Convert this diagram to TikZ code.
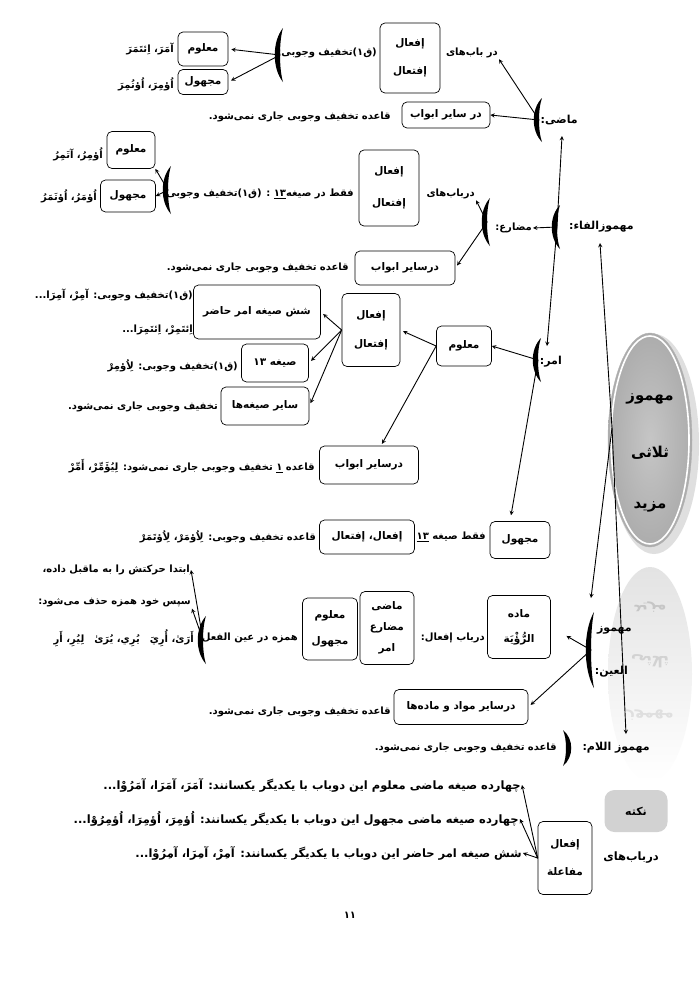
\documentclass[tikz,border=0pt]{standalone}
\usepackage{fontspec}
\newfontfamily\arabicfont[Script=Arabic]{DejaVu Sans}
\TeXXeTstate=1
\newcommand\ptxt[1]{\beginR#1\endR}
% crescent bracket: [direction] coordinate, half height
\newcommand\brak[3][1]{\fill[shift={(#2)}] ({3*(#1)},{-#3}) .. controls ({-8*(#1)},{-#3/2}) and ({-8*(#1)},{#3/2}) .. ({3*(#1)},{#3}) .. controls ({-1*(#1)},{#3/2}) and ({-1*(#1)},{-#3/2}) .. cycle;}
\tikzset{
  box/.style={draw, rounded corners=5pt, line width=0.7pt, inner sep=2pt, font=\arabicfont\bfseries\fontsize{10.5}{12}\selectfont},
  lbl/.style={inner sep=1pt, anchor=east},
  lblbig/.style={font=\arabicfont\bfseries\fontsize{11}{13}\selectfont},
  rowtxt/.style={font=\arabicfont\bfseries\fontsize{11.5}{13}\selectfont},
  ovaltxt/.style={font=\arabicfont\bfseries\fontsize{15}{18}\selectfont},
  arr/.style={->, line width=0.9pt},
}
\begin{document}
\begin{tikzpicture}[x=1pt, y=-1pt, >=stealth, line join=round, line cap=round,
  every node/.style={font=\arabicfont\bfseries\fontsize{10}{12}\selectfont}]
\fill[white] (0,0) rectangle (700,989);
\useasboundingbox (0,0) rectangle (700,989);

% ---- oval and its reflection
\shade[top color=gray!22, bottom color=white] (650,674) ellipse (42 and 107);
\node[text=gray!45, ovaltxt] (refl1) at (650,607) {\scalebox{1}[-1]{\ptxt{مزید}}};
\node[text=gray!35, ovaltxt] (refl2) at (650,661) {\scalebox{1}[-1]{\ptxt{ثلاثی}}};
\node[text=gray!25, ovaltxt] (refl3) at (650,715) {\scalebox{1}[-1]{\ptxt{مهموز}}};
\fill[gray!25] (654,444) ellipse (45 and 110);
\shade[inner color=gray!45, outer color=gray!65] (650,440) ellipse (42 and 107);
\draw[white, line width=1.6pt] (650,440) ellipse (39 and 104);
\draw[gray!60, line width=0.4pt] (650,440) ellipse (42 and 107);
\node[ovaltxt] (tMahmooz) at (650,399) {\ptxt{مهموز}};
\node[ovaltxt] (tSolasi) at (650,453) {\ptxt{ثلاثی}};
\node[ovaltxt] (tMazid) at (650,507) {\ptxt{مزید}};

% ---- ماضی
\node[lbl, lblbig] (tMazi) at (579,120) {\ptxt{ماضی:}};
\coordinate (bMazi) at (539,120);
\brak{bMazi}{22}
\node[box, minimum width=88, minimum height=26] (sayer1) at (446,115) {\ptxt{در سایر ابواب}};
\node[lbl] (qaeda1) at (392,117) {\ptxt{قاعده تخفیف وجوبی جاری نمی^^^^200cشود.}};
\node[lbl] (darbab1) at (499,53) {\ptxt{در باب^^^^200cهای}};
\node[box, minimum width=60, minimum height=70, align=center] (ifal1) at (410,58) {\ptxt{إفعال}\\[16pt]\ptxt{إفتعال}};
\node[lbl] (qaf1) at (378,53) {\ptxt{(ق۱)تخفیف وجوبی:}};
\coordinate (b1) at (280,55);
\brak{b1}{27}
\node[box, minimum width=50, minimum height=34] (maloom1) at (203,49) {\ptxt{معلوم}};
\node[box, minimum width=50, minimum height=25] (majhool1) at (203,82) {\ptxt{مجهول}};
\node[lbl] (amara) at (175,49) {\ptxt{آمَرَ، اِئتَمَرَ}};
\node[lbl] (umira) at (175,84) {\ptxt{اُؤمِرَ، اُؤتُمِرَ}};
\draw[arr] (bMazi) -- (darbab1.south east);
\draw[arr] (bMazi) -- (sayer1.east);
\draw[arr, shorten >=3pt] (b1) -- (maloom1.east);
\draw[arr, shorten >=3pt] (b1) -- (majhool1.east);

% ---- مهموزالفاء
\node[lbl, lblbig] (tFa) at (635,227) {\ptxt{مهموزالفاء:}};
\coordinate (bFa) at (557,227);
\brak{bFa}{22}
\coordinate (mTop) at (562,136);
\coordinate (mBot) at (547,346);
\draw[arr] (bFa) -- (mTop);
\draw[arr] (bFa) -- (mBot);

% ---- مضارع
\node[lbl] (tMoz) at (533,228) {\ptxt{مضارع:}};
\draw[arr] (bFa) -- (tMoz.east);
\coordinate (bMoz) at (487,222);
\brak{bMoz}{24}
\node[lbl] (darbab2) at (476,194) {\ptxt{درباب^^^^200cهای}};
\node[box, minimum width=60, minimum height=76, align=center] (ifal2) at (389,188) {\ptxt{إفعال}\\[20pt]\ptxt{إفتعال}};
\node[lbl] (faqat1) at (355,194) {\ptxt{فقط در صیغه\underline{۱۳} : (ق۱)تخفیف وجوبی:}};
\coordinate (b2) at (168,190);
\brak{b2}{24}
\node[box, minimum width=48, minimum height=37] (maloom2) at (131,150) {\ptxt{معلوم}};
\node[box, minimum width=55, minimum height=32] (majhool2) at (128,196) {\ptxt{مجهول}};
\node[lbl] (ooziru) at (104,154) {\ptxt{اُؤمِرُ، آتَمِرُ}};
\node[lbl] (oomaru) at (98,196) {\ptxt{اُؤمَرُ، اُؤتَمَرُ}};
\draw[arr] (b2) -- (maloom2.south east);
\draw[arr] (b2) -- (majhool2.east);
\draw[arr] (bMoz) -- (darbab2.south east);
\node[box, minimum width=100, minimum height=34] (sayer2) at (405,268) {\ptxt{درسایر ابواب}};
\node[lbl] (qaeda2) at (350,268) {\ptxt{قاعده تخفیف وجوبی جاری نمی^^^^200cشود.}};
\draw[arr, shorten >=3pt] (bMoz) -- (sayer2.east);

% ---- امر
\node[lbl, lblbig] (tAmr) at (563,362) {\ptxt{امر:}};
\coordinate (bAmr) at (538,360);
\brak{bAmr}{22}
\node[box, minimum width=55, minimum height=40] (maloom3) at (464,346) {\ptxt{معلوم}};
\node[box, minimum width=58, minimum height=73, align=center] (ifal3) at (371,330) {\ptxt{إفعال}\\[17pt]\ptxt{إفتعال}};
\node[box, minimum width=127, minimum height=54] (shesh) at (257,312) {\ptxt{شش صیغه امر حاضر}};
\node[box, minimum width=67, minimum height=38] (sigheh13) at (275,363) {\ptxt{صیغه ۱۳}};
\node[box, minimum width=88, minimum height=38] (sayer3) at (265,406) {\ptxt{سایر صیغه^^^^200cها}};
\node[lbl] (q1amir) at (194,295) {\ptxt{(ق۱)تخفیف وجوبی: آمِرْ، آمِرَا...}};
\node[lbl] (itamir) at (194,330) {\ptxt{اِئتَمِرْ، اِئتَمِرَا...}};
\node[lbl] (q1liumir) at (239,366) {\ptxt{(ق۱)تخفیف وجوبی: لِاُؤمِرْ}};
\node[lbl] (takh3) at (219,407) {\ptxt{تخفیف وجوبی جاری نمی^^^^200cشود.}};
\draw[arr] (bAmr) -- (maloom3.east);
\draw[arr, shorten >=3pt] (maloom3.west) -- (ifal3.east);
\draw[arr, shorten >=3pt] (ifal3.west) -- (shesh.east);
\draw[arr, shorten >=3pt] (ifal3.west) -- (sigheh13.east);
\draw[arr, shorten >=3pt] (ifal3.west) -- (sayer3.east);
\node[box, minimum width=99, minimum height=38] (sayer4) at (369,465) {\ptxt{درسایر ابواب}};
\node[lbl] (qaeda4) at (316,466) {\ptxt{قاعده \underline{۱} تخفیف وجوبی جاری نمی^^^^200cشود: لِیُؤَمِّرْ، أَمِّرْ}};
\draw[arr, shorten >=2pt] (maloom3.west) -- ([xshift=12pt]sayer4.north);
\node[box, minimum width=60, minimum height=37] (majhool3) at (520,540) {\ptxt{مجهول}};
\draw[arr, shorten >=6pt] (bAmr) -- ([xshift=-10pt]majhool3.north);
\node[lbl] (faqat2) at (487,537) {\ptxt{فقط صیغه \underline{۱۳}}};
\node[box, minimum width=95, minimum height=34] (ifal4) at (367,537) {\ptxt{إفعال، إفتعال}};
\node[lbl] (qaeda5) at (317,537) {\ptxt{قاعده تخفیف وجوبی: لِاُؤمَرْ، لِاُؤتَمَرْ}};

% ---- مهموز العین
\node[lbl, lblbig] (tMahEin) at (633,630) {\ptxt{مهموز}};
\node[lbl, lblbig] (tEin) at (629,672) {\ptxt{العین:}};
\coordinate (bEin) at (591,650);
\brak{bEin}{38}
\node[box, minimum width=63, minimum height=63, align=center] (madeh) at (519,627) {\ptxt{ماده}\\[13pt]\ptxt{الرُّؤْيَة}};
\node[lbl] (darbabIfal) at (486,638) {\ptxt{درباب إفعال:}};
\node[box, minimum width=54, minimum height=73, align=center] (mmza) at (387,628) {\ptxt{ماضی}\\[9pt]\ptxt{مضارع}\\[9pt]\ptxt{امر}};
\node[box, minimum width=55, minimum height=62, align=center] (malmaj) at (330,629) {\ptxt{معلوم}\\[14pt]\ptxt{مجهول}};
\node[lbl] (hamzeh) at (299,638) {\ptxt{همزه در عین الفعل:}};
\coordinate (bHam) at (203,640);
\brak{bHam}{24}
\node[lbl] (araa) at (195,638) {\ptxt{أَرَىٰ، أُرِيَ\quad يُرِي، يُرَىٰ\quad لِيُرِ، أَرِ}};
\node[lbl] (ibteda) at (191,570) {\ptxt{ابتدا حرکتش را به ماقبل داده،}};
\node[lbl] (sepas) at (192,603) {\ptxt{سپس خود همزه حذف می^^^^200cشود:}};
\draw[arr] (bHam) -- (ibteda.east);
\draw[arr] (bHam) -- (sepas.south east);
\draw[arr, shorten >=18pt] (bEin) -- (madeh.east);
\node[box, minimum width=134, minimum height=35] (sayer5) at (461,707) {\ptxt{درسایر مواد و ماده^^^^200cها}};
\node[lbl] (qaeda6) at (392,712) {\ptxt{قاعده تخفیف وجوبی جاری نمی^^^^200cشود.}};
\draw[arr, shorten >=3pt] (bEin) -- (sayer5.east);

% ---- مهموز اللام
\node[lbl, lblbig] (tLam) at (651,748) {\ptxt{مهموز اللام:}};
\coordinate (bLam) at (566,748);
\brak[-1]{bLam}{18}
\node[lbl] (qaeda7) at (558,748) {\ptxt{قاعده تخفیف وجوبی جاری نمی^^^^200cشود.}};

% ---- connectors from the oval
\coordinate (pO) at (612,428);
\coordinate (fTip) at (600,243);
\coordinate (eTip) at (591,598);
\coordinate (lTip) at (626,734);
\draw[arr] (pO) -- (fTip);
\draw[arr] (pO) -- (eTip);
\draw[arr] (pO) -- (lTip);

% ---- نکته
\node[fill=gray!35, rounded corners=10pt, minimum width=63, minimum height=42, lblbig] (nokte) at (636,811) {\ptxt{نکته}};
\node[box, minimum width=54, minimum height=73, align=center] (ifal5) at (565,858) {\ptxt{إفعال}\\[16pt]\ptxt{مفاعلة}};
\node[lbl, rowtxt] (darbab5) at (660,858) {\ptxt{درباب^^^^200cهای}};
\node[lbl, rowtxt] (row1) at (522,785) {\ptxt{چهارده صیغه ماضی معلوم این دوباب با یکدیگر یکسانند: آمَرَ، آمَرَا، آمَرُوْا...}};
\node[lbl, rowtxt] (row2) at (520,819) {\ptxt{چهارده صیغه ماضی مجهول این دوباب با یکدیگر یکسانند: اُؤمِرَ، اُؤمِرَا، اُؤمِرُوْا...}};
\node[lbl, rowtxt] (row3) at (523,853) {\ptxt{شش صیغه امر حاضر این دوباب با یکدیگر یکسانند: آمِرْ، آمِرَا، آمِرُوْا...}};
\draw[arr] (ifal5.west) -- (row1.east);
\draw[arr] (ifal5.west) -- (row2.east);
\draw[arr] (ifal5.west) -- (row3.east);

\node (pnum) at (350,915) {۱۱};
\end{tikzpicture}
\end{document}
